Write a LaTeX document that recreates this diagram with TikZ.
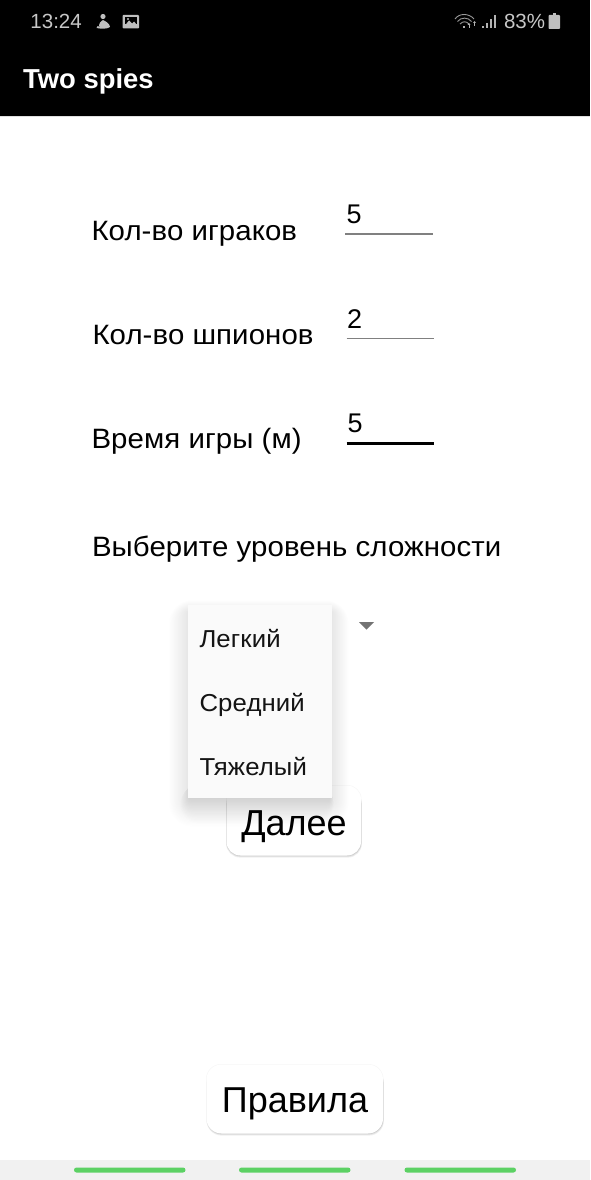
\documentclass[tikz,border=0pt]{standalone}
\usepackage{fontspec}
\setmainfont{Liberation Sans}
\newfontfamily\lblfont[FakeStretch=1.05,LetterSpace=0.3]{Liberation Sans}
\newfontfamily\itemfont[FakeStretch=1.05,LetterSpace=0.5]{Liberation Sans}
\tikzset{
  lbl/.style={anchor=base west,inner sep=0pt,outer sep=0pt,text=black,font=\lblfont\fontsize{28}{30}\selectfont},
  val/.style={anchor=base west,inner sep=0pt,outer sep=0pt,text=black,font=\fontsize{27}{30}\selectfont},
  item/.style={anchor=base west,inner sep=0pt,outer sep=0pt,font=\itemfont\fontsize{24.5}{28}\selectfont,text=black!92},
  btntext/.style={anchor=base,inner sep=0pt,outer sep=0pt,text=black,font=\fontsize{36}{40}\selectfont},
  status/.style={anchor=base west,inner sep=0pt,outer sep=0pt,text=black!22,font=\fontsize{20.5}{24}\selectfont},
  thinline/.style={draw=black!50,line width=1.5pt},
  thickline/.style={draw=black,line width=3pt},
  greenbar/.style={draw=none,fill=navgreen,rounded corners=2.5pt},
}
\definecolor{navgreen}{HTML}{5CD164}
\definecolor{navgrey}{HTML}{F1F1F1}
\definecolor{menugrey}{HTML}{FAFAFA}
\begin{document}
\begin{tikzpicture}[x=1pt,y=-1pt]
\useasboundingbox (0,0) rectangle (590,1180);
\fill[white] (0,0) rectangle (590,1180);
% top bar
\fill[black] (0,0) rectangle (590,116);
\fill[black!12] (0,116) rectangle (590,117.2);
\node[status] (clock) at (30.5,29) {13:24};
\node[status] (pct) at (504,29) {83\%};
\node[anchor=base west,inner sep=0pt,text=white,font=\fontsize{27.4}{30}\selectfont\bfseries] (title) at (23,89) {Two spies};
% status icons: figure
\fill[black!25] (103,16.5) circle (2.6);
\fill[black!25] (99.5,27.5) .. controls (98,24) and (101,21) .. (103,20) .. controls (105.5,21) and (110,24) .. (110,27) .. controls (108,29) and (101,29) .. (96.5,28) .. controls (97,26) and (98,25) .. cycle;
% picture icon
\fill[black!25,rounded corners=1pt] (122.5,15) rectangle (139,28.5);
\fill[black] (124.5,17) rectangle (137,24);
\fill[black!25] (124.5,26) -- (129,20.5) -- (132,23.5) -- (134,21.5) -- (137,25) -- (137,26) -- cycle;
\fill[black!25] (128,19) circle (1.2);
% wifi
\begin{scope}[draw=black!40,line width=0.9pt]
\draw (455,19) .. controls (459,13) and (469,13) .. (474,19);
\draw (457.5,21.5) .. controls (461,17) and (468,17) .. (471.5,21.5);
\draw (460,24) .. controls (463,21) and (466,21) .. (469,24);
\end{scope}
\fill[black!30] (463,26.5) rectangle (464.5,28);
\fill[black!30] (467.5,25) -- (470.5,25) -- (469,23) -- cycle;
\fill[black!30] (473,23) -- (476,23) -- (474.5,21) -- cycle;
\fill[black!30] (468.5,25) rectangle (469.5,28);
\fill[black!30] (474,23) rectangle (475,26);
% signal bars
\fill[black!30] (482,26) rectangle (483.5,28.5);
\fill[black!30] (486,23) rectangle (487.5,28.5);
\fill[black!30] (490,19) rectangle (491.5,28.5);
\fill[black!30] (494,15) rectangle (495.5,28.5);
% battery
\fill[black!25] (552.5,13) rectangle (556,16);
\fill[black!25,rounded corners=0.8pt] (548.5,15) rectangle (560,29);

% form
\node[lbl] (players) at (91.5,240) {Кол-во играков};
\node[val] (v1) at (346.5,223.5) {5};
\coordinate (a1) at (345,234); \coordinate (b1) at (433,234);
\draw[thinline] (a1) -- (b1);
\node[lbl] (spies) at (92.5,344) {Кол-во шпионов};
\node[val] (v2) at (347,328) {2};
\coordinate (a2) at (346.5,338.5); \coordinate (b2) at (434,338.5);
\draw[thinline] (a2) -- (b2);
\node[lbl] (time) at (91.5,448) {Время игры (м)};
\node[val] (v3) at (347.5,432.5) {5};
\coordinate (a3) at (346.5,443); \coordinate (b3) at (434,443);
\draw[thickline] (a3) -- (b3);
\node[lbl] (level) at (92,556) {Выберите уровень сложности};

% dropdown arrow
\fill[black!55] (359,622) -- (374,622) -- (366.5,629.5) -- cycle;

% Далее button
\foreach \i in {1,...,3}{
  \fill[black,opacity=0.06,rounded corners=14pt] (227-0.3*\i,790) rectangle (361+0.3*\i,855.5+0.7*\i);
}
\fill[black,opacity=0.03,rounded corners=14pt] (226,785) rectangle (361.5,856);
\fill[white,rounded corners=14pt] (226.5,785.5) rectangle (361,855.5);
\node[btntext] (next) at (294,835) {Далее};

% menu shadow
\foreach \i in {1,...,24}{
  \fill[black,opacity=0.003,rounded corners=\i pt] (188-\i*0.8,612-\i*0.5) rectangle (332+\i*0.7,798+\i*1.2);
}
\foreach \i in {1,...,20}{
  \fill[black,opacity=0.005,rounded corners=\i pt] (190-\i*0.5,785) rectangle (330+\i*0.2,798+\i*1.3);
}
\fill[menugrey] (187.5,604.5) rectangle (332,797.5);
\node[item] (o1) at (199.5,647.5) {Легкий};
\node[item] (o2) at (199.5,711.5) {Средний};
\node[item] (o3) at (199.5,775.5) {Тяжелый};

% Правила button
\foreach \i in {1,...,3}{
  \fill[black,opacity=0.06,rounded corners=15pt] (207.5-0.3*\i,1068) rectangle (383+0.3*\i,1133.5+0.7*\i);
}
\fill[black,opacity=0.03,rounded corners=15pt] (206,1064) rectangle (383.5,1134);
\fill[white,rounded corners=15pt] (206.5,1064.5) rectangle (383,1133.5);
\node[btntext] (rules) at (295,1112) {Правила};

% nav bar
\fill[navgrey] (0,1160) rectangle (590,1180);
\fill[greenbar] (74,1167.5) rectangle (185.5,1172.5);
\fill[greenbar] (239,1167.5) rectangle (350.5,1172.5);
\fill[greenbar] (404.5,1167.5) rectangle (516,1172.5);
\end{tikzpicture}
\end{document}
